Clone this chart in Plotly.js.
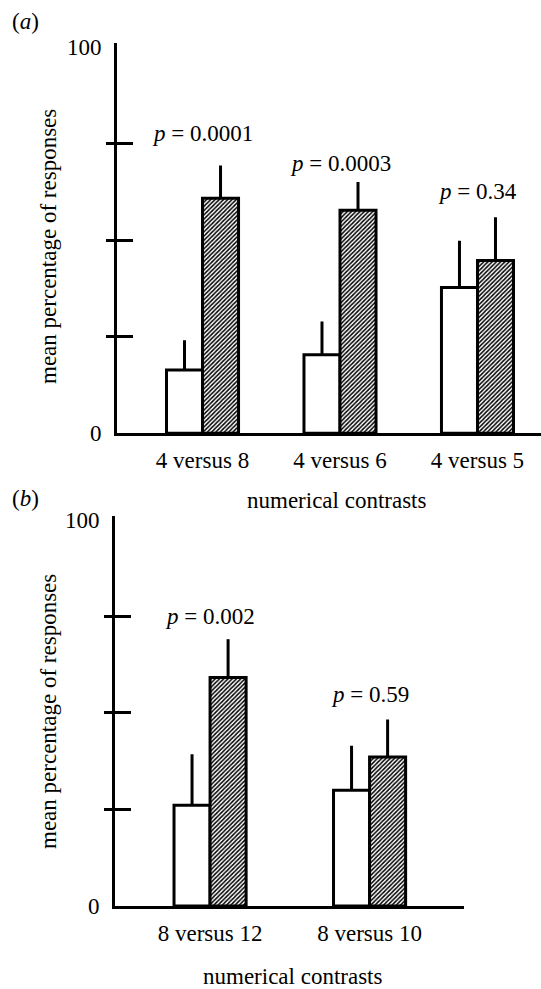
<!DOCTYPE html>
<html>
<head>
<meta charset="utf-8">
<script src="https://cdn.plot.ly/plotly-3.0.1.min.js"></script>
<style>html,body{margin:0;padding:0;background:#fff;}#chart{width:541px;height:989px;}</style>
</head>
<body>
<div id="chart"></div>
<script>
// ---- data: panel (a) ----
const catsA = ['4 versus 8', '4 versus 6', '4 versus 5'];
const whiteA = [16.4, 20.3, 37.7];
const whiteErrA = [7.7, 8.6, 12.1];
const hatchA = [60.8, 57.7, 44.7];
const hatchErrA = [8.5, 7.3, 11.2];
const pValsA = ['0.0001', '0.0003', '0.34'];

// ---- data: panel (b) ----
const catsB = ['8 versus 12', '8 versus 10'];
const whiteB = [26.1, 30.0];
const whiteErrB = [13.2, 11.5];
const hatchB = [59.2, 38.6];
const hatchErrB = [9.9, 9.7];
const pValsB = ['0.002', '0.59'];

// ---- shared text ----
const yTitle = 'mean percentage of responses';
const xTitle = 'numerical contrasts';
const yTickVals = [0, 100];
const yMinorTicks = [25, 50, 75];

// ---- styling / layout ----
const FONT = 'Liberation Serif';
const FS = 23;
const W = 541, H = 989;
const wA = 0.262, wB = 0.226;
const pLabelYA = [77.6, 69.8, 62.5];
const pLabelYB = [75.0, 54.7];

function bars(cats, vals, errs, xa, ya, w, hatched) {
  return {
    type: 'bar', x: cats, y: vals, xaxis: xa, yaxis: ya,
    width: w, offset: hatched ? 0 : -w,
    marker: {
      color: '#fff',
      line: {color: '#000', width: 3},
      pattern: hatched ? {shape: '/', fgcolor: '#000', bgcolor: '#fff', size: 3, solidity: 0.5} : {shape: ''}
    },
    error_y: {type: 'data', symmetric: false, array: errs, arrayminus: errs.map(() => 0),
              color: '#000', thickness: 3, width: 0},
    showlegend: false, hoverinfo: 'skip'
  };
}
function dummy(cats, xa, ya) {
  return {type: 'scatter', mode: 'none', x: [cats[0]], y: [null], xaxis: xa, yaxis: ya,
          showlegend: false, hoverinfo: 'skip'};
}

const traces = [
  bars(catsA, whiteA, whiteErrA, 'x', 'y', wA, false),
  bars(catsA, hatchA, hatchErrA, 'x', 'y', wA, true),
  bars(catsB, whiteB, whiteErrB, 'x2', 'y2', wB, false),
  bars(catsB, hatchB, hatchErrB, 'x2', 'y2', wB, true),
  dummy(catsA, 'x', 'y3'), dummy(catsA, 'x', 'y4'),
  dummy(catsB, 'x2', 'y5'), dummy(catsB, 'x2', 'y6')
];

const domA = [1 - 433.3 / H, 1 - 43 / H];
const domB = [1 - 906 / H, 1 - 516 / H];
const yRange = [0, 101];

function mainY(dom, anchor) {
  return {domain: dom, anchor: anchor, range: yRange, fixedrange: true,
    showline: true, linewidth: 3, linecolor: '#000', showgrid: false, zeroline: false,
    tickmode: 'array', tickvals: yTickVals, ticktext: yTickVals.map(String), ticks: '',
    ticklabelstandoff: 8,
    tickfont: {family: FONT, size: FS, color: '#000'}};
}
function tickY(dom, anchor, over, side) {
  return {domain: dom, anchor: anchor, overlaying: over, range: yRange, fixedrange: true,
    showline: false, showgrid: false, zeroline: false, showticklabels: false,
    tickmode: 'array', tickvals: yMinorTicks, ticks: side,
    ticklen: side === 'outside' ? 10 : 16, tickwidth: 3, tickcolor: '#000'};
}
function xAx(dom, anchor, range) {
  return {domain: dom, anchor: anchor, range: range, type: 'category', fixedrange: true,
    showline: true, linewidth: 3, linecolor: '#000', showgrid: false, zeroline: false,
    ticks: '', ticklabelstandoff: 4,
    tickfont: {family: FONT, size: FS, color: '#000'}};
}

const annotations = [];
function txt(text, x, y, extra) {
  return Object.assign({text: text, x: x, y: y, xref: 'paper', yref: 'paper',
    showarrow: false, xanchor: 'center', yanchor: 'middle',
    font: {family: FONT, size: FS, color: '#000'}}, extra || {});
}
annotations.push(txt('(<i>a</i>)', 25 / W, 1 - 22 / H));
annotations.push(txt('(<i>b</i>)', 25 / W, 1 - 498 / H));
annotations.push(txt(xTitle, 337 / W, 1 - 500 / H));
annotations.push(txt(xTitle, 293 / W, 1 - 976 / H));
annotations.push(txt(yTitle, 48 / W, 1 - 247 / H, {textangle: -90}));
annotations.push(txt(yTitle, 48 / W, 1 - 712 / H, {textangle: -90}));
catsA.forEach((c, i) => annotations.push({text: '<i>p</i> = ' + pValsA[i], x: c, y: pLabelYA[i],
  xref: 'x', yref: 'y', showarrow: false, xanchor: 'center', yanchor: 'middle',
  font: {family: FONT, size: FS, color: '#000'}}));
catsB.forEach((c, i) => annotations.push({text: '<i>p</i> = ' + pValsB[i], x: c, y: pLabelYB[i],
  xref: 'x2', yref: 'y2', showarrow: false, xanchor: 'center', yanchor: 'middle',
  font: {family: FONT, size: FS, color: '#000'}}));

const layout = {
  width: W, height: H,
  margin: {l: 0, r: 0, t: 0, b: 0},
  paper_bgcolor: '#fff', plot_bgcolor: 'rgba(0,0,0,0)',
  barmode: 'overlay',
  font: {family: FONT, size: FS, color: '#000'},
  xaxis: xAx([117 / W, 1], 'y', [-0.622, 2.462]),
  xaxis2: xAx([115 / W, 464 / W], 'y2', [-0.596, 1.592]),
  yaxis: mainY(domA, 'x'),
  yaxis2: mainY(domB, 'x2'),
  yaxis3: tickY(domA, 'x', 'y', 'outside'),
  yaxis4: tickY(domA, 'x', 'y', 'inside'),
  yaxis5: tickY(domB, 'x2', 'y2', 'outside'),
  yaxis6: tickY(domB, 'x2', 'y2', 'inside'),
  annotations: annotations
};

Plotly.newPlot('chart', traces, layout, {staticPlot: true, displayModeBar: false});
</script>
</body>
</html>
